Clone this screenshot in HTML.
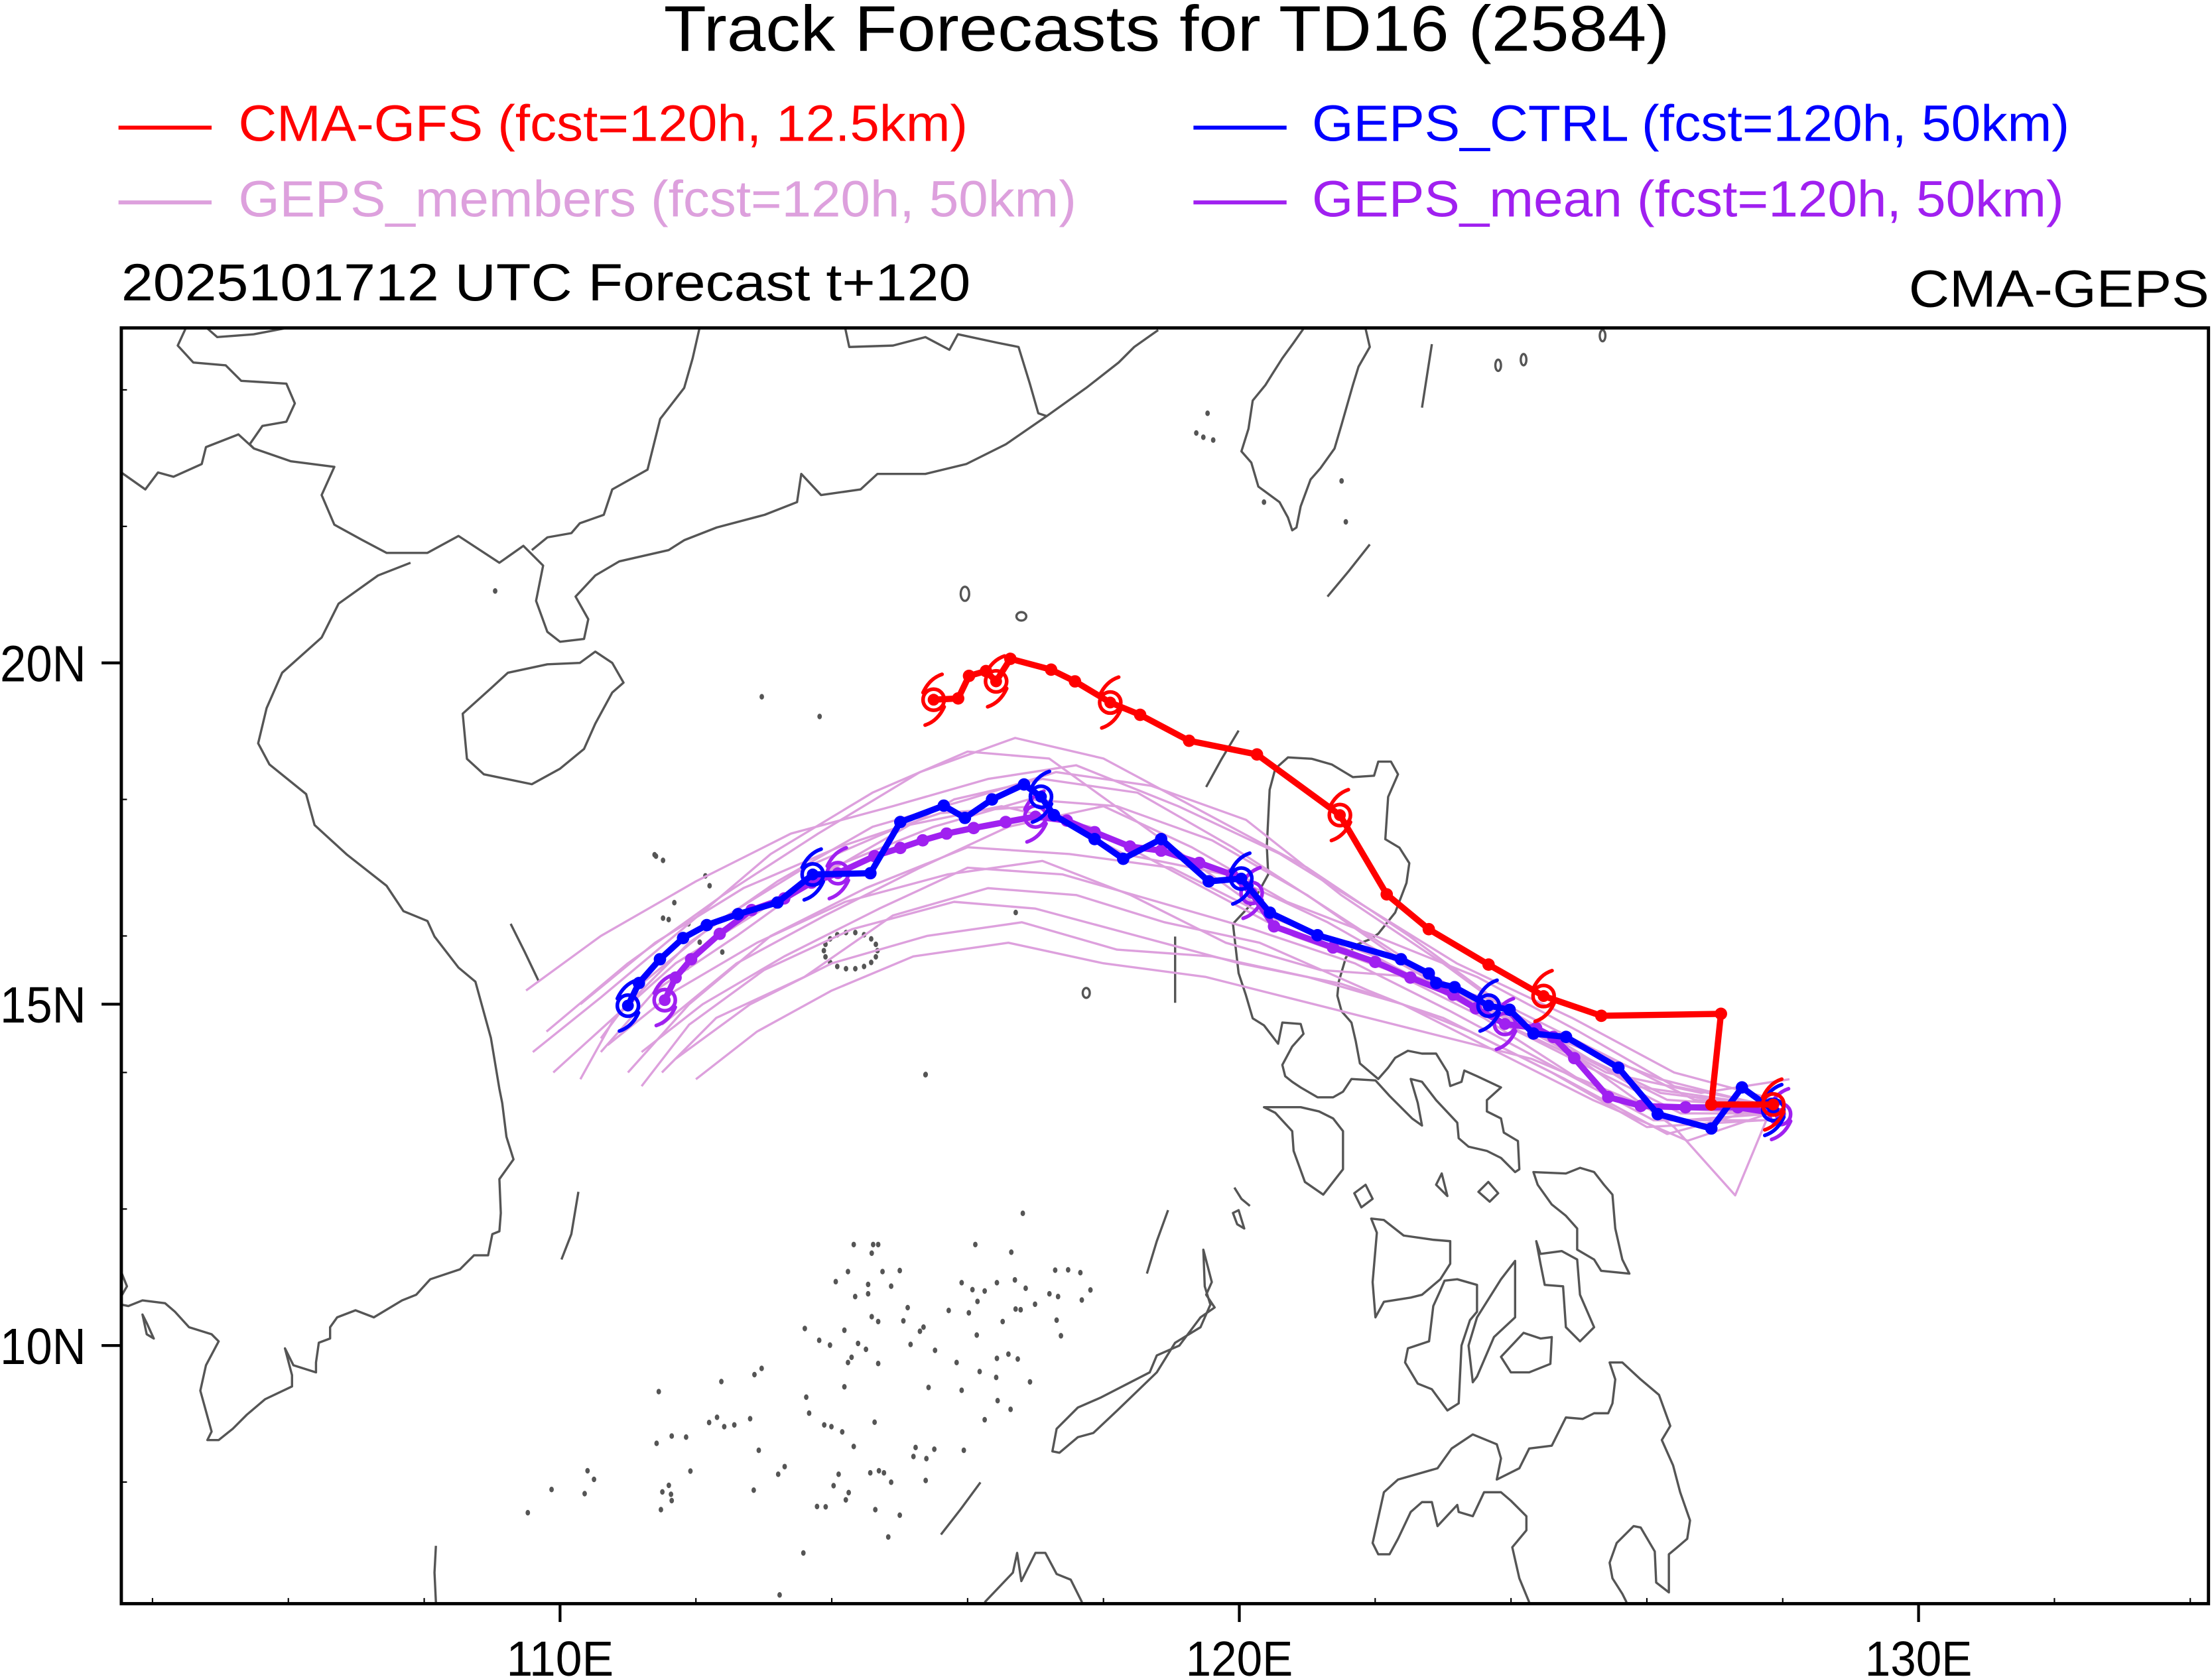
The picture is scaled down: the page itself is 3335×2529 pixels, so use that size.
<!DOCTYPE html>
<html><head><meta charset="utf-8"><style>
html,body{margin:0;padding:0;background:#fff;}
svg{display:block;}
text{font-family:"Liberation Sans",Arial,sans-serif;}
</style></head><body>
<svg id="chart" xmlns="http://www.w3.org/2000/svg" width="3335" height="2529" viewBox="0 0 1568 1189" preserveAspectRatio="none">
<rect x="0" y="0" width="1568" height="1189" fill="#fff"/>
<text x="827" y="36" font-size="46" text-anchor="middle" textLength="713" lengthAdjust="spacingAndGlyphs">Track Forecasts for TD16 (2584)</text>
<g>
  <g><line x1="84" y1="90.5" x2="150" y2="90.5" stroke="#ff0000" stroke-width="2.8"/><text x="169" y="100" font-size="36" fill="#ff0000" textLength="517" lengthAdjust="spacingAndGlyphs">CMA-GFS (fcst=120h, 12.5km)</text></g>
  <g><line x1="84" y1="143.5" x2="150" y2="143.5" stroke="#dda0dd" stroke-width="2.8"/><text x="169" y="153.5" font-size="36" fill="#dda0dd" textLength="594" lengthAdjust="spacingAndGlyphs">GEPS_members (fcst=120h, 50km)</text></g>
  <g><line x1="846" y1="90.5" x2="912" y2="90.5" stroke="#0000ff" stroke-width="2.8"/><text x="930" y="100" font-size="36" fill="#0000ff" textLength="537" lengthAdjust="spacingAndGlyphs">GEPS_CTRL (fcst=120h, 50km)</text></g>
  <g><line x1="846" y1="143.5" x2="912" y2="143.5" stroke="#a020f0" stroke-width="2.8"/><text x="930" y="153.5" font-size="36" fill="#a020f0" textLength="533" lengthAdjust="spacingAndGlyphs">GEPS_mean (fcst=120h, 50km)</text></g>
</g>
<text x="86" y="213" font-size="37" textLength="602" lengthAdjust="spacingAndGlyphs">2025101712 UTC Forecast t+120</text>
<text x="1566" y="217.5" font-size="37" text-anchor="end" textLength="213" lengthAdjust="spacingAndGlyphs">CMA-GEPS</text>
<defs><clipPath id="plotclip"><rect x="86" y="232" width="1480" height="905"/></clipPath></defs>
<g id="map" clip-path="url(#plotclip)" fill="none" stroke="#555" stroke-width="1.6" stroke-linejoin="round"></g>
<g id="tracks" clip-path="url(#plotclip)"></g>
<rect x="86" y="232.5" width="1479.5" height="904.5" fill="none" stroke="#000" stroke-width="2.3"/>
<g id="axes"></g>
</svg>
<script>
// ---- chart data (lon, lat) ----
const lonTicks = [110, 120, 130];
const lonTickLabels = ["110E", "120E", "130E"];
const latTicks = [20, 15, 10];
const latTickLabels = ["20N", "15N", "10N"];

const cmaGfsTrack = [[127.86,13.53],[126.95,13.53],[127.09,14.86],[125.33,14.83],[124.48,15.12],[123.67,15.58],[122.79,16.10],[122.17,16.61],[121.48,17.77],[120.26,18.66],[119.26,18.86],[118.54,19.24],[118.10,19.42],[117.58,19.73],[117.23,19.90],[116.63,20.06],[116.42,19.73],[116.27,19.88],[116.02,19.81],[115.86,19.48],[115.50,19.46]];
const cmaGfsSymbols = [0,4,8,12,16,20];

const gepsCtrlTrack = [[127.86,13.45],[127.40,13.78],[126.95,13.18],[126.16,13.39],[125.58,14.07],[124.81,14.52],[124.33,14.57],[123.98,14.92],[123.67,14.98],[123.17,15.25],[122.90,15.31],[122.79,15.45],[122.38,15.66],[121.15,16.01],[120.45,16.34],[120.03,16.84],[119.55,16.80],[118.85,17.42],[118.29,17.13],[117.87,17.42],[117.27,17.77],[117.08,18.04],[116.83,18.22],[116.36,18.00],[115.96,17.73],[115.65,17.91],[115.01,17.67],[114.57,16.92],[113.72,16.90],[113.20,16.49],[112.62,16.32],[112.16,16.16],[111.81,15.97],[111.47,15.66],[111.16,15.31],[111.00,14.98]];
const gepsCtrlSymbols = [0,8,15,21,28,35];

const gepsMeanTrack = [[127.96,13.39],[127.34,13.49],[126.57,13.49],[125.91,13.51],[125.43,13.64],[124.93,14.21],[124.62,14.52],[124.37,14.65],[123.91,14.71],[123.48,14.94],[123.15,15.14],[122.52,15.39],[122.00,15.62],[121.38,15.83],[120.51,16.14],[120.18,16.63],[119.89,16.90],[119.41,17.07],[118.85,17.25],[118.39,17.31],[117.87,17.52],[117.46,17.69],[117.00,17.75],[116.56,17.67],[116.09,17.58],[115.69,17.50],[115.34,17.40],[115.01,17.29],[114.63,17.17],[114.09,16.92],[113.70,16.78],[113.30,16.55],[112.82,16.38],[112.35,16.03],[111.93,15.66],[111.70,15.39],[111.54,15.06]];
const gepsMeanSymbols = [0,8,15,22,29,36];

const gepsMembers = [
 [[127.9,13.4],[126.5,13.3],[125,13.9],[123.6,14.8],[122.2,15.5],[120.8,16.0],[119.3,16.8],[117.8,17.6],[116.5,17.9],[115,17.6],[113.6,17.0],[112.3,16.2],[111.2,15.3],[110.6,14.5]],
 [[127.8,13.5],[126.3,13.6],[124.7,14.4],[123.3,15.1],[121.6,15.8],[120.0,16.6],[118.6,17.6],[117.2,18.6],[116.0,18.7],[114.6,18.1],[113.1,17.2],[111.8,16.1],[110.6,15.1],[109.6,14.3]],
 [[127.7,13.3],[126.0,13.2],[124.6,14.0],[123.0,14.8],[121.5,15.3],[120.0,15.6],[118.5,16.0],[117.0,16.4],[115.8,16.5],[114.3,16.1],[113.0,15.5],[111.9,14.7],[111.2,13.8]],
 [[127.9,13.5],[125.8,13.8],[124.0,14.9],[122.5,16.0],[121.0,17.0],[119.5,17.8],[118.0,18.6],[116.7,18.9],[115.3,18.4],[113.8,17.5],[112.4,16.6],[111.0,15.6],[109.8,14.6]],
 [[127.8,13.4],[126.6,13.0],[125.2,13.6],[123.8,14.3],[122.4,15.0],[121.0,15.4],[119.6,15.7],[118.2,15.8],[116.8,16.2],[115.4,16.0],[114.0,15.6],[112.8,15.0],[111.7,14.2]],
 [[127.9,13.6],[126.4,14.0],[124.9,14.8],[123.2,15.6],[121.9,16.4],[120.6,17.2],[119.1,17.9],[117.6,18.5],[116.3,18.3],[114.9,17.9],[113.4,17.5],[112.0,16.8],[110.6,16.0],[109.5,15.2]],
 [[127.8,13.4],[127.3,12.2],[126.4,13.2],[125.0,14.2],[123.5,14.9],[122.0,15.7],[120.4,16.3],[119.0,17.0],[117.5,17.2],[116.0,17.3],[114.5,16.7],[113.1,16.0],[111.9,15.0],[111.0,14.0]],
 [[127.9,13.5],[126.7,13.6],[125.3,14.3],[123.9,15.0],[122.6,15.4],[121.2,15.5],[119.8,15.9],[118.4,16.6],[117.1,17.1],[115.7,16.9],[114.2,16.5],[112.9,15.9],[111.7,15.2],[110.7,14.4]],
 [[127.8,13.5],[126.2,13.9],[124.4,14.6],[122.9,15.3],[121.3,16.2],[119.8,16.9],[118.3,17.2],[117.0,17.9],[115.6,17.8],[114.1,17.3],[112.7,16.7],[111.4,15.9],[110.3,15.0]],
 [[127.7,13.4],[126.0,13.5],[124.3,14.2],[122.7,14.6],[121.1,15.0],[119.5,15.4],[118.0,15.6],[116.6,15.9],[115.2,15.7],[114.0,15.2],[112.9,14.6],[112.0,13.9]],
 [[128.1,13.9],[126.8,13.7],[125.4,14.0],[124.1,14.7],[122.7,15.5],[121.3,16.4],[119.9,17.3],[118.5,18.1],[117.1,18.3],[115.8,18.0],[114.4,17.2],[113.0,16.4],[111.7,15.6],[110.8,14.8],[110.3,13.9]],
 [[127.8,13.3],[126.1,13.3],[124.6,14.1],[123.1,14.9],[121.7,15.6],[120.2,16.1],[118.8,16.5],[117.4,16.9],[116.0,17.0],[114.7,16.4],[113.3,15.7],[112.1,15.0],[111.2,14.3]],
 [[127.9,13.5],[126.4,13.8],[125.0,14.6],[123.5,15.4],[122.0,16.0],[120.7,16.5],[119.3,17.3],[118.0,17.9],[116.6,17.6],[115.3,17.0],[113.9,16.3],[112.6,15.6],[111.5,14.7]],
 [[127.8,13.5],[126.3,13.1],[124.8,13.9],[123.4,14.6],[121.9,15.2],[120.3,15.9],[118.9,16.2],[117.6,16.6],[116.3,16.7],[114.9,16.3],[113.6,15.4],[112.3,14.8],[111.5,14.0]],
 [[127.9,13.4],[126.5,13.4],[125.1,14.1],[123.7,14.8],[122.3,15.7],[121.0,16.6],[119.6,17.4],[118.2,17.9],[116.9,18.0],[115.5,17.6],[114.0,17.0],[112.6,16.0],[111.4,15.2],[110.6,14.3]],
 [[127.8,13.5],[126.2,13.7],[124.5,14.5],[123.0,15.6],[121.5,16.6],[120.1,17.7],[118.7,18.2],[117.3,18.4],[116.0,18.0],[114.6,17.6],[113.2,16.8],[111.9,15.9],[110.9,14.9],[109.9,14.0]]
];

// ---- axis functions ----
function xOf(lon){ return 397 + (lon - 110) * 48.15; }
function yOf(lat){ return 712 - (lat - 15) * 48.4; }

const NS = "http://www.w3.org/2000/svg";
function mk(tag, attrs, parent){
  const e = document.createElementNS(NS, tag);
  for (const k in attrs) e.setAttribute(k, attrs[k]);
  parent.appendChild(e);
  return e;
}

// ---- coastlines (decorative background) ----
const map = document.getElementById('map');
const coastLines = [
 "86,335 103,347 112,335 123,338 143,329 146,317 169,308 180,318 206,327 237,331 228,351 237,372 257,383 274,392 303,392 325,380 354,399 371,387 382,398 385,401 380,426 388,448 397,455 414,453 417,439 408,423 422,408 439,398 474,390 485,383 508,374 542,365 565,356 568,336 582,351 610,347 622,336 656,336 685,329 713,315 742,295 770,275 793,257 804,246 821,234",
 "132,232 126,245 137,257 160,259 171,270 203,272 209,286 203,299 186,302 177,315 180,318",
 "146,232 154,239 180,237 206,232",
 "496,232 491,254 485,275 468,297 459,333 434,347 428,365 411,371 405,378 388,381 377,390",
 "599,232 602,246 633,245 656,239 673,248 679,237 707,243 722,246 730,272 736,293 742,295",
 "291,399 268,408 240,428 228,452 200,477 189,502 183,527 191,542 217,563 223,585 246,606 274,628 286,646 303,653 308,664 325,686 337,696 348,736 354,772 356,782 359,806 364,822 354,836 355,860 354,873 349,875 346,890 336,890 326,900 305,907 295,918 285,922 265,934 252,929 239,934 234,941 234,949 226,952 224,966 224,973 208,968 202,956 207,975 207,983 188,992 175,1003 165,1013 155,1021 147,1021 150,1015 142,986 146,968 155,951 150,946 134,941 124,930 117,924 101,922 91,926 86,925",
 "86,902 90,912 86,919",
 "362,655 372,675 382,696",
 "410,845 405,875 398,893",
 "309,1096 308,1115 309,1136",
 "695,1051 681,1070 667,1088",
 "828,858 820,880 813,903",
 "833,664 833,711",
 "878,518 866,538 855,558",
 "971,386 956,405 941,423",
 "1015,244 1008,289",
 "698,1136 718,1115 721,1101 724,1121 734,1101 741,1101 749,1116 759,1120 767,1136",
 "1084,1136 1077,1119 1072,1097 1082,1085 1082,1075 1071,1064 1064,1058 1052,1058 1044,1075 1034,1072 1033,1067 1019,1082 1015,1065 1008,1065 1000,1072 991,1091 985,1102 977,1102 973,1094 981,1058 991,1049 1019,1041 1029,1027 1044,1017 1061,1024 1064,1034 1061,1049 1077,1041 1084,1027 1100,1025 1110,1005 1122,1006 1130,1002 1140,1002 1143,995 1145,978 1141,966 1150,966 1163,978 1176,989 1184,1011 1178,1021 1186,1039 1191,1058 1198,1078 1196,1091 1189,1097 1183,1102 1183,1129 1174,1122 1173,1100 1163,1083 1158,1082 1146,1094 1141,1108 1143,1119 1150,1130 1153,1136",
 "875,842 880,850 886,855"
];
coastLines.forEach(function(pts){
  const p = mk('polyline', {points: pts}, map);
  
  
});
const coastPolys = [
 "422,462 434,470 442,484 434,491 422,513 414,531 397,545 377,556 343,549 331,538 328,506 348,488 360,477 388,471 411,470",
 "924,233 917,243 909,254 902,265 897,273 888,284 885,304 880,320 887,328 892,345 907,356 913,367 916,376 919,374 922,359 929,340 936,332 946,318 951,301 959,273 963,260 971,246 968,233",
 "913,537 930,538 944,542 959,551 974,550 977,540 986,540 991,549 984,565 982,595 992,601 999,612 997,626 989,647 977,662 971,666 961,670 954,679 949,696 948,706 951,717 958,725 961,738 964,754 977,765 984,757 989,750 998,745 1008,747 1018,747 1026,760 1028,770 1036,767 1038,759 1047,763 1064,771 1054,780 1054,788 1064,793 1066,803 1076,809 1077,829 1074,831 1064,821 1054,816 1041,813 1034,807 1033,796 1018,780 1008,767 1000,765 1005,782 1008,798 1001,793 995,787 985,777 975,766 958,765 952,774 945,778 934,778 922,771 916,767 911,763 909,755 916,742 924,733 922,726 909,725 906,740 896,727 888,722 883,705 878,690 874,655 888,640 899,620 898,600 900,560 904,545",
 "896,785 922,785 935,788 945,793 952,802 952,829 945,838 938,847 925,838 917,816 916,802 904,789",
 "1087,831 1110,832 1120,828 1130,831 1137,840 1143,847 1145,871 1150,893 1155,903 1135,901 1130,893 1118,886 1118,871 1110,862 1100,854 1090,840",
 "1089,880 1092,889 1107,887 1118,893 1120,918 1130,941 1120,951 1110,941 1108,912 1095,911 1092,896",
 "972,864 981,865 995,876 1016,879 1028,880 1028,896 1021,907 1008,918 1000,920 981,923 975,934 973,909 976,874",
 "1024,908 1033,907 1047,911 1047,930 1042,936 1036,954 1034,995 1026,1000 1015,985 1005,981 996,966 998,956 1013,951 1016,926 1021,915",
 "1074,894 1074,934 1059,948 1047,976 1044,980 1041,954 1047,934 1064,907",
 "1064,962 1080,945 1092,949 1100,948 1099,967 1084,973 1071,973",
 "853,886 859,909 855,918 861,927 851,934 836,954 820,961 815,973 780,991 764,998 749,1013 746,1029 751,1030 764,1019 775,1016 792,1000 820,973 833,952 851,941 858,925 854,912",
 "1048,845 1055,838 1062,846 1056,852",
 "960,846 968,840 973,850 965,856",
 "1018,840 1022,832 1026,848",
 "874,860 878,858 882,871 877,868",
 "101,932 104,938 109,949 104,946"
];
coastPolys.forEach(function(pts){
  const p = mk('polygon', {points: pts}, map);
  
  
});
const islets = [[1118,40],[1253,440],[1187,530],[1237,552],[1018,530],[1045,530],[1052,530],[1043,555],[1010,608],[1058,608],[1082,605],[993,637],[1038,645],[1070,650],[1168,640],[1217,640],[1242,632],[1257,656],[1183,660],[1200,664],[1020,680],[1038,672],[1298,604],[1316,603],[1333,611],[1347,661],[1290,672],[1302,680],[1335,690],[1270,702],[1250,718],[1243,716],[1190,694],[1150,720],[1178,727],[1093,712],[1087,750],[1043,738],[1052,752],[950,772],[1005,777],[1110,780],[1115,768],[1189,791],[1306,793],[1300,748],[1225,752],[970,806],[985,820],[1024,815],[1035,832],[1015,855],[1010,870],[1052,873],[1097,818],[1131,835],[1161,870],[1217,858],[1233,846],[1246,860],[890,887],[880,905],[834,925],[747,954],[1005,940],[1193,896],[1216,913],[1263,926],[1122,942],[1168,950],[952,970],[956,1016],[1218,980],[1236,1005],[1200,1035],[977,1050],[987,1055],[1047,1042],[1002,1070],[817,1043],[828,1028],[838,1055],[852,1050],[874,1032],[744,1103],[765,1082],[785,1085],[886,1123],[1018,1112],[1104,1115],[1130,1120],[1171,1123],[1101,1141],[1119,1147],[648,1182],[657,1207],[598,1236],[644,1248],[791,1183],[922,1170],[913,1192],[997,1192],[1041,1188],[1053,1182],[1060,1188],[1118,1210],[1070,1215],[761,1224],[752,1243],[764,1250],[765,1268],[750,1294],[879,1238],[990,1225],[1011,1245],[1007,1266],[967,1285],[979,1286],[1048,1294],[1082,1310],[1066,1373],[948,1419],[915,1540],[565,1303]];
islets.forEach(function(d){
  const c = mk('ellipse', {cx: 86 + d[0]*0.51, cy: 752 + d[1]*0.246, rx: 1.6, ry: 2.0, fill: '#555', stroke: 'none'}, map);
  
  
});
const islets2 = [[351,419],[540,494],[581,508],[720,647],[656,762],[465,607],[470,610],[500,621],[503,628],[478,640],[474,652],[488,655],[496,668],[512,675],[487,686],[856,293],[848,307],[853,310],[860,312],[951,341],[896,356],[954,370],[464,606],[470,651]];
islets2.forEach(function(d){
  const c = mk('ellipse', {cx: d[0], cy: d[1], rx: 1.6, ry: 2.0, fill: '#555', stroke: 'none'}, map);
  
  
});
[[684,421,3,5],[724,437,3.5,3],[770,704,2.5,3.5],[1062,259,2,4],[1080,255,2,4],[1136,238,2,4]].forEach(function(d){
  const c = mk('ellipse', {cx: d[0], cy: d[1], rx: d[2], ry: d[3]}, map);
  
  
});
for (let i = 0; i < 18; i++){
  const a = i / 18 * Math.PI * 2;
  const c = mk('ellipse', {cx: 603 + 19*Math.cos(a), cy: 674 + 13*Math.sin(a), rx: 1.6, ry: 2.0, fill: '#555', stroke: 'none'}, map);
  
  
}

// ---- tracks ----
const tracks = document.getElementById('tracks');
function ptsOf(track){ return track.map(function(p){ return xOf(p[0]).toFixed(1) + ',' + yOf(p[1]).toFixed(1); }).join(' '); }

const memberGroup = mk('g', {}, tracks);


gepsMembers.forEach(function(m, i){
  const l = mk('polyline', {points: ptsOf(m), fill: 'none', stroke: '#dda0dd', 'stroke-width': 1.6, 'stroke-linejoin': 'round'}, memberGroup);
  
  
});

function drawSymbol(parent, cx, cy, color){
  const g = mk('g', {transform: 'translate(' + cx.toFixed(1) + ',' + cy.toFixed(1) + ')', fill: 'none', stroke: color, 'stroke-width': 2.6, 'stroke-linecap': 'round'}, parent);
  
  
  mk('circle', {cx: 0, cy: 0, r: 7.5}, g);
  mk('circle', {cx: 0, cy: 0, r: 4.2, fill: color, stroke: 'none'}, g);
  mk('path', {d: 'M -7.5,-5 Q -3,-15 6,-18'}, g);
  mk('path', {d: 'M 7.5,5 Q 3,15 -6,18'}, g);
}

function drawTrack(track, syms, color, name){
  const g = mk('g', {}, tracks);
  
  
  const l = mk('polyline', {points: ptsOf(track), fill: 'none', stroke: color, 'stroke-width': 4.4, 'stroke-linejoin': 'round'}, g);
  
  
  track.forEach(function(p, i){
    if (syms.indexOf(i) >= 0) return;
    const c = mk('circle', {cx: xOf(p[0]).toFixed(1), cy: yOf(p[1]).toFixed(1), r: 4.4, fill: color}, g);
    
    
  });
  syms.forEach(function(i){
    const p = track[i];
    drawSymbol(g, xOf(p[0]), yOf(p[1]), color);
  });
}
drawTrack(gepsMeanTrack, gepsMeanSymbols, '#a020f0', 'geps-mean-track');
drawTrack(gepsCtrlTrack, gepsCtrlSymbols, '#0000ff', 'geps-ctrl-track');
drawTrack(cmaGfsTrack, cmaGfsSymbols, '#ff0000', 'cma-gfs-track');

// ---- axes ----
const axes = document.getElementById('axes');
lonTicks.forEach(function(v, i){
  const x = xOf(v);
  const t = mk('line', {x1: x, y1: 1137, x2: x, y2: 1150, stroke: '#000', 'stroke-width': 2}, axes);
  
  
  const lb = mk('text', {x: x, y: 1188, 'font-size': 35, 'text-anchor': 'middle', textLength: 76, lengthAdjust: 'spacingAndGlyphs'}, axes);
  lb.textContent = lonTickLabels[i];
  
  
});
latTicks.forEach(function(v, i){
  const y = yOf(v);
  const t = mk('line', {x1: 72, y1: y, x2: 86, y2: y, stroke: '#000', 'stroke-width': 2}, axes);
  
  
  const lb = mk('text', {x: 61, y: y + 13, 'font-size': 36, 'text-anchor': 'end', textLength: 61, lengthAdjust: 'spacingAndGlyphs'}, axes);
  lb.textContent = latTickLabels[i];
  
  
});
for (let lon = 104; lon <= 134; lon += 2){
  if (lon % 10 === 0) continue;
  const x = xOf(lon);
  if (x < 88 || x > 1564) continue;
  const t = mk('line', {x1: x, y1: 1137, x2: x, y2: 1133, stroke: '#000', 'stroke-width': 1}, axes);
  
  
}
for (let lat = 6; lat <= 26; lat += 2){
  if (lat % 5 === 0) continue;
  const y = yOf(lat);
  if (y < 234 || y > 1135) continue;
  const t = mk('line', {x1: 86, y1: y, x2: 90, y2: y, stroke: '#000', 'stroke-width': 1}, axes);
  
  
}
</script>
</body></html>
